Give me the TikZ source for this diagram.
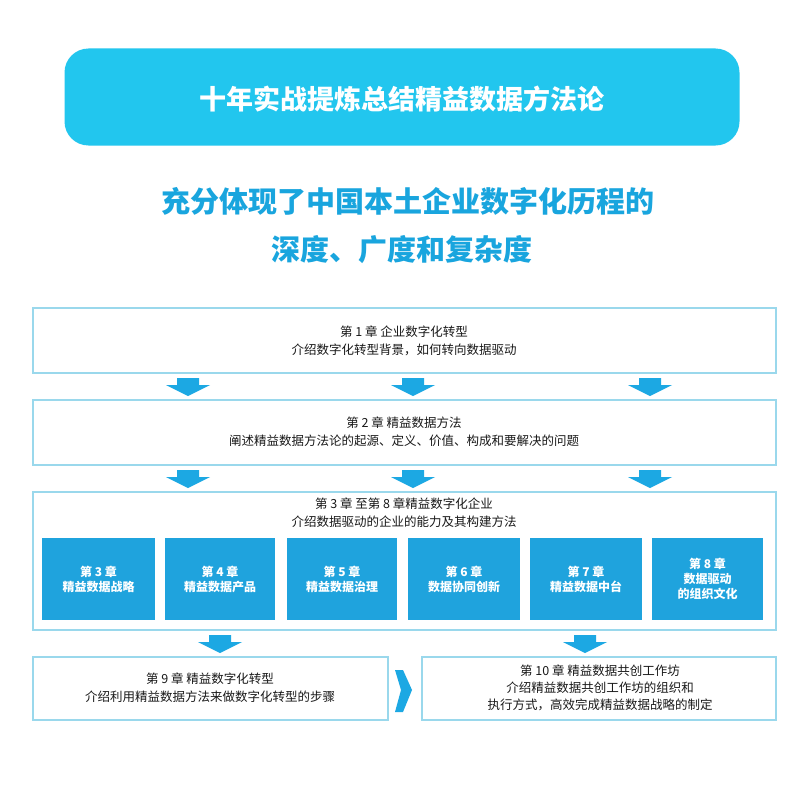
\documentclass[tikz,border=0pt]{standalone}
\usepackage{fontspec}
\setmainfont{Noto Sans CJK SC}
\begin{document}
\begin{tikzpicture}[x=1pt,y=-1pt,
  frame/.style={draw=cyanL,line width=1.2pt,fill=white},
  chap/.style={fill=blueD,text=white,font=\fontsize{12}{15}\selectfont\bfseries,align=center},
  txt/.style={text=gray!20!black,font=\fontsize{12.5}{18}\selectfont,align=center},
  darr/.style={fill=blueA,draw=none}]
\definecolor{cyanL}{HTML}{9AD8EC}
\definecolor{blueD}{HTML}{1FA3DD}
\definecolor{blueA}{HTML}{1CA8E3}
\definecolor{banner}{HTML}{22C6EE}
\definecolor{sub}{HTML}{19A5DE}
\useasboundingbox (0,0) rectangle (800,800);
\fill[white] (0,0) rectangle (800,800);
\node[fill=banner,rounded corners=24pt,minimum width=675pt,minimum height=97pt] (ban) at (402,97) {};
\node[text=white,font=\fontsize{27}{30}\selectfont\bfseries] (bt) at (402,99) {十年实战提炼总结精益数据方法论};
\node[text=sub,font=\fontsize{29}{32}\selectfont\bfseries] (s1) at (408,201) {充分体现了中国本土企业数字化历程的};
\node[text=sub,font=\fontsize{29}{32}\selectfont\bfseries] (s2) at (402,250) {深度、广度和复杂度};
% boxes
\draw[frame] (33,308) rectangle (776,373);
\node[txt] (t1) at (404,341) {第 1 章\ 企业数字化转型\\介绍数字化转型背景，如何转向数据驱动};
\draw[frame] (33,400) rectangle (776,465);
\node[txt] (t2) at (404,432) {第 2 章\ 精益数据方法\\阐述精益数据方法论的起源、定义、价值、构成和要解决的问题};
\draw[frame] (33,492) rectangle (776,630);
\node[txt] (t3) at (404,513) {第 3 章\ 至第 8 章精益数字化企业\\介绍数据驱动的企业的能力及其构建方法};
\foreach \xa/\xb/\tt in {42/155/{第 3 章\\精益数据战略},165/275/{第 4 章\\精益数据产品},287/397/{第 5 章\\精益数据治理},408/520/{第 6 章\\数据协同创新},530/642/{第 7 章\\精益数据中台},652/763/{第 8 章\\数据驱动\\的组织文化}}{
  \node[chap,minimum width={\xb-\xa},minimum height=82pt] at ({(\xa+\xb)/2},579) {\tt};
}
\draw[frame] (33,657) rectangle (388,720);
\node[txt] (t9) at (210,688) {第 9 章\ 精益数字化转型\\介绍利用精益数据方法来做数字化转型的步骤};
\draw[frame] (422,657) rectangle (776,720);
\node[txt,font=\fontsize{12.5}{17}\selectfont] (t10) at (600,688) {第 10 章\ 精益数据共创工作坊\\介绍精益数据共创工作坊的组织和\\执行方式，高效完成精益数据战略的制定};
% down arrows
\foreach \cx/\cy in {188/378,413/378,650/378,188/470,413/470,650/470,220/635,585/635}{
  \fill[darr] (\cx-11,\cy) -- (\cx+11,\cy) -- (\cx+11,\cy+7) -- (\cx+22,\cy+7) -- (\cx,\cy+18) -- (\cx-22,\cy+7) -- (\cx-11,\cy+7) -- cycle;
}
% right arrow
\fill[darr] (395,670) -- (403,670) -- (412,690) -- (403,712) -- (395,712) -- (401,690) -- cycle;
\end{tikzpicture}
\end{document}
